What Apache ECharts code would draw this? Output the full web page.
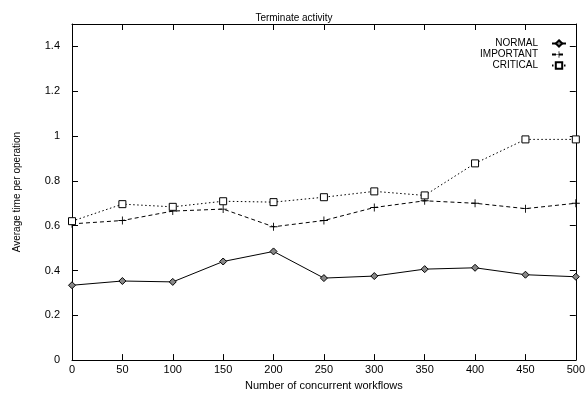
<!DOCTYPE html>
<html>
<head>
<meta charset="utf-8">
<script src="https://cdn.jsdelivr.net/npm/echarts@6/dist/echarts.min.js"></script>
<style>
  html, body { margin: 0; padding: 0; background: #fff; }
  #main { width: 588px; height: 396px; }
</style>
</head>
<body>
<div id="main"></div>
<script>
// 数据
var workflows = ['0', '50', '100', '150', '200', '250', '300', '350', '400', '450', '500'];
var normal    = [0.334, 0.353, 0.349, 0.440, 0.485, 0.366, 0.375, 0.406, 0.412, 0.381, 0.372];
var important = [0.608, 0.623, 0.665, 0.674, 0.595, 0.623, 0.681, 0.711, 0.700, 0.676, 0.700];
var critical  = [0.620, 0.696, 0.684, 0.709, 0.705, 0.727, 0.753, 0.735, 0.878, 0.985, 0.985];

var FONT = 'Liberation Sans';
var plusPath = 'path://M4,0h1v4h4v1h-4v4h-1v-4h-4v-1h4z';

var chart = echarts.init(document.getElementById('main'));

function xAxisDef(show) {
  return {
    type: 'category',
    data: workflows,
    boundaryGap: false,
    position: show ? 'bottom' : 'top',
    name: show ? 'Number of concurrent workflows' : '',
    nameLocation: 'middle',
    nameGap: 17,
    nameTextStyle: { fontFamily: FONT, fontSize: 11, color: '#000' },
    axisLine: { show: true, onZero: false, lineStyle: { color: '#000', width: 1 } },
    axisTick: { show: true, inside: true, length: 6, alignWithLabel: true, lineStyle: { color: '#000' } },
    axisLabel: { show: show, fontFamily: FONT, fontSize: 11, color: '#000', margin: 4 },
    splitLine: { show: false }
  };
}

function yAxisDef(show) {
  return {
    type: 'value',
    min: 0,
    max: 1.5,
    interval: 0.2,
    position: show ? 'left' : 'right',
    name: show ? 'Average time per operation' : '',
    nameLocation: 'middle',
    nameGap: 50,
    nameRotate: 90,
    nameTextStyle: { fontFamily: FONT, fontSize: 10, color: '#000' },
    axisLine: { show: true, onZero: false, lineStyle: { color: '#000', width: 1 } },
    axisTick: { show: true, inside: true, length: 6, lineStyle: { color: '#000' } },
    axisLabel: {
      show: show, fontFamily: FONT, fontSize: 11, color: '#000', margin: 12,
      formatter: function (v) { return v > 1.45 ? '' : String(Math.round(v * 10) / 10); }
    },
    splitLine: { show: false }
  };
}

var option = {
  backgroundColor: '#fff',
  animation: false,
  title: {
    text: 'Terminate activity',
    left: 289,
    top: 8,
    textAlign: 'center',
    textStyle: { fontFamily: FONT, fontSize: 10, fontWeight: 'normal', color: '#000' }
  },
  legend: {
    orient: 'vertical',
    right: 16,
    top: 33,
    align: 'right',
    itemGap: 0,
    itemWidth: 14,
    itemHeight: 8,
    textStyle: { fontFamily: FONT, fontSize: 10, lineHeight: 11, color: '#000', padding: [0, 9, 0, 0] },
    data: ['NORMAL', 'IMPORTANT', 'CRITICAL']
  },
  grid: { left: 72, right: 9, top: 24, bottom: 30 },
  xAxis: [xAxisDef(true), xAxisDef(false)],
  yAxis: [yAxisDef(true), yAxisDef(false)],
  series: [
    {
      name: 'NORMAL', type: 'line', data: normal,
      symbol: 'diamond', symbolSize: 7, showAllSymbol: true,
      lineStyle: { color: '#000', width: 1, type: 'solid' },
      itemStyle: { color: '#888', borderColor: '#000', borderWidth: 1 }
    },
    {
      name: 'IMPORTANT', type: 'line', data: important,
      symbol: plusPath, symbolSize: 8, showAllSymbol: true,
      lineStyle: { color: '#000', width: 1, type: [4, 3] },
      itemStyle: { color: '#000', borderWidth: 0 }
    },
    {
      name: 'CRITICAL', type: 'line', data: critical,
      symbol: 'rect', symbolSize: 7, showAllSymbol: true,
      lineStyle: { color: '#000', width: 1, type: [1.5, 2.5] },
      itemStyle: { color: '#fff', borderColor: '#000', borderWidth: 1 }
    }
  ]
};

chart.setOption(option);
</script>
</body>
</html>
